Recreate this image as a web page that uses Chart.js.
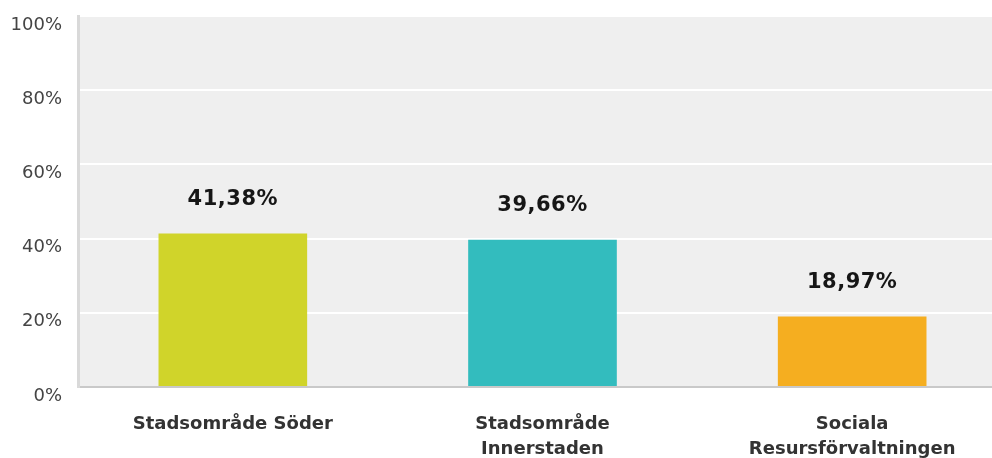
<!DOCTYPE html>
<html>
<head>
<meta charset="utf-8">
<script src="https://cdn.jsdelivr.net/npm/chart.js@4/dist/chart.umd.min.js"></script>
<style>
  html, body { margin: 0; padding: 0; background: #ffffff; overflow: hidden; }
  #wrap { width: 1007px; height: 458px; position: relative; }
</style>
</head>
<body>
<div id="wrap"><canvas id="c"></canvas></div>
<script>
// Andel svar per förvaltning (%)
const categories = [
  'Stadsområde Söder',
  ['Stadsområde', 'Innerstaden'],
  ['Sociala', 'Resursförvaltningen']
];
const shares = [41.38, 39.66, 18.97];
const barColors = ['#d0d42a', '#33bcbe', '#f5ae20'];
const yTicks = [0, 20, 40, 60, 80, 100];

const fmtPct = v => v.toFixed(2).replace('.', ',') + '%';

// Grey plot background behind the grid
const plotBackground = {
  id: 'plotBackground',
  beforeDraw(chart) {
    const { ctx, chartArea: a } = chart;
    ctx.save();
    ctx.fillStyle = '#efefef';
    ctx.fillRect(a.left, a.top, a.right - a.left, a.bottom - a.top);
    ctx.restore();
  }
};

// Value labels above each bar
const valueLabels = {
  id: 'valueLabels',
  afterDatasetsDraw(chart) {
    const { ctx } = chart;
    const meta = chart.getDatasetMeta(0);
    ctx.save();
    ctx.font = 'bold 21px "DejaVu Sans", Verdana, sans-serif';
    ctx.fillStyle = '#161616';
    ctx.textAlign = 'center';
    ctx.textBaseline = 'middle';
    if ('letterSpacing' in ctx) ctx.letterSpacing = '0.5px';
    meta.data.forEach((bar, i) => {
      ctx.fillText(fmtPct(shares[i]), bar.x, bar.y - 34);
    });
    ctx.restore();
  }
};

new Chart(document.getElementById('c'), {
  type: 'bar',
  data: {
    labels: categories,
    datasets: [{
      data: shares,
      backgroundColor: barColors,
      borderWidth: 0,
      barPercentage: 0.48,
      categoryPercentage: 1
    }]
  },
  options: {
    responsive: true,
    maintainAspectRatio: false,
    animation: false,
    devicePixelRatio: 1,
    layout: { padding: { top: 16, left: 0, right: 0, bottom: 0 } },
    plugins: { legend: { display: false }, tooltip: { enabled: false } },
    scales: {
      x: {
        grid: { display: false, drawTicks: false },
        border: { display: true, color: '#c9c9c9', width: 2 },
        ticks: {
          color: '#333333',
          font: { family: '"DejaVu Sans", Verdana, sans-serif', size: 18, weight: 'bold', lineHeight: 1.4 },
          padding: 25,
          maxRotation: 0,
          autoSkip: false
        },
        afterFit(scale) {
          scale.height = 71;
          scale.paddingLeft = 0;
          scale.paddingRight = 0;
        }
      },
      y: {
        min: 0,
        max: 100,
        afterBuildTicks(scale) { scale.ticks = yTicks.map(v => ({ value: v })); },
        grid: { color: '#ffffff', lineWidth: 2, drawTicks: false },
        border: { display: true, color: '#d9d9d9', width: 3 },
        ticks: {
          color: '#444444',
          font: { family: '"DejaVu Sans", Verdana, sans-serif', size: 18 },
          padding: 16,
          labelOffset: 9,
          callback: v => v + '%'
        },
        afterFit(scale) {
          scale.width = 78;
          scale.paddingTop = 0;
          scale.paddingBottom = 0;
        }
      }
    }
  },
  plugins: [plotBackground, valueLabels]
});
</script>
</body>
</html>
